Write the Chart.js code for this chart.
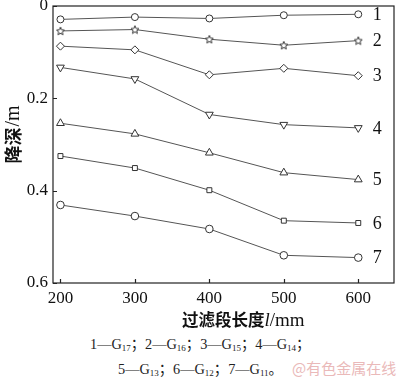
<!DOCTYPE html>
<html>
<head>
<meta charset="utf-8">
<script src="https://cdn.jsdelivr.net/npm/chart.js@4.4.0/dist/chart.umd.min.js"></script>
<style>
  body { margin: 0; background: #fff; }
  #wrap { position: relative; width: 400px; height: 380px; }
  #chart { position: absolute; left: 0; top: 0; }
  .leg { position: absolute; font-family: "Liberation Serif", "Noto Sans CJK SC", serif; font-size: 14.3px; color: #222; white-space: nowrap; }
  .leg sub { font-size: 9px; vertical-align: -2px; }
  .mark { position: absolute; font-family: "Noto Sans CJK SC", sans-serif; font-size: 15px; color: #eab9b9; white-space: nowrap; }
</style>
</head>
<body>
<div id="wrap">
  <canvas id="chart" width="400" height="330"></canvas>
  <div class="leg" style="left:90px;top:332px;">1—G<sub>17</sub>；2—G<sub>16</sub>；3—G<sub>15</sub>；4—G<sub>14</sub>；</div>
  <div class="leg" style="left:118px;top:357px;">5—G<sub>13</sub>；6—G<sub>12</sub>；7—G<sub>11</sub>。</div>
  <div class="mark" style="left:292px;top:357px;">@有色金属在线</div>
</div>
<script>
// filter length (mm)
const lengths = [200, 300, 400, 500, 600];
const xTicks = [200, 300, 400, 500, 600];
const yTicks = [0, 0.2, 0.4, 0.6];

// drawdown (m) for each well
const g17 = [0.029, 0.024, 0.027, 0.020, 0.018];
const g16 = [0.054, 0.051, 0.072, 0.085, 0.075];
const g15 = [0.087, 0.095, 0.149, 0.135, 0.151];
const g14 = [0.133, 0.158, 0.235, 0.257, 0.264];
const g13 = [0.254, 0.277, 0.318, 0.361, 0.376];
const g12 = [0.325, 0.351, 0.399, 0.465, 0.470];
const g11 = [0.431, 0.455, 0.483, 0.540, 0.545];
const curveLabels = ['1', '2', '3', '4', '5', '6', '7'];

// 5-point star marker
function makeStar() {
  const c = document.createElement('canvas');
  c.width = 10; c.height = 10;
  const g = c.getContext('2d');
  g.beginPath();
  for (let i = 0; i < 10; i++) {
    const r = i % 2 === 0 ? 4.2 : 1.9;
    const a = -Math.PI / 2 + i * Math.PI / 5;
    const px = 5 + r * Math.cos(a), py = 5.4 + r * Math.sin(a);
    if (i === 0) g.moveTo(px, py); else g.lineTo(px, py);
  }
  g.closePath();
  g.fillStyle = '#fff';
  g.fill();
  g.strokeStyle = '#333';
  g.lineWidth = 1;
  g.stroke();
  return c;
}

function series(vals, style, radius, rotation) {
  return {
    data: lengths.map((x, i) => ({ x: x, y: vals[i] })),
    borderColor: '#555',
    borderWidth: 1,
    pointStyle: style,
    pointRadius: radius,
    pointRotation: rotation || 0,
    pointBackgroundColor: '#fff',
    pointBorderColor: '#333',
    pointBorderWidth: 1,
    tension: 0
  };
}

const serif = '"Liberation Serif", "Times New Roman", serif';

const decor = {
  id: 'decor',
  afterDraw(chart) {
    const ctx = chart.ctx;
    const a = chart.chartArea;
    const xs = chart.scales.x, ys = chart.scales.y;
    ctx.save();
    // frame
    ctx.strokeStyle = '#222';
    ctx.lineWidth = 1.2;
    ctx.strokeRect(a.left, a.top, a.right - a.left, a.bottom - a.top);
    // inner ticks
    ctx.beginPath();
    xTicks.forEach(v => {
      const px = Math.round(xs.getPixelForValue(v)) + 0.5;
      ctx.moveTo(px, a.bottom); ctx.lineTo(px, a.bottom - 4);
    });
    yTicks.forEach(v => {
      const py = Math.round(ys.getPixelForValue(v)) + 0.5;
      ctx.moveTo(a.left, py); ctx.lineTo(a.left + 4, py);
    });
    ctx.stroke();

    // curve numbers at the right end
    ctx.fillStyle = '#111';
    ctx.font = '18px ' + serif;
    ctx.textAlign = 'center';
    ctx.textBaseline = 'middle';
    chart.data.datasets.forEach((ds, i) => {
      const last = ds.data[ds.data.length - 1];
      ctx.fillText(curveLabels[i], xs.getPixelForValue(last.x) + 19, ys.getPixelForValue(last.y) + 1);
    });

    // x axis title
    ctx.textAlign = 'left';
    ctx.textBaseline = 'middle';
    let tx = 182;
    const ty = 320;
    ctx.font = 'bold 16.5px "Noto Sans CJK SC", sans-serif';
    ctx.fillText('过滤段长度', tx, ty);
    tx += ctx.measureText('过滤段长度').width;
    ctx.font = 'italic 19px ' + serif;
    ctx.fillText('l', tx, ty + 1);
    tx += ctx.measureText('l').width;
    ctx.font = '19px ' + serif;
    ctx.fillText('/mm', tx, ty + 1);

    // y axis title
    ctx.translate(13, 135);
    ctx.rotate(-Math.PI / 2);
    ctx.font = 'bold 18px "Noto Sans CJK SC", sans-serif';
    const w1 = ctx.measureText('降深').width;
    ctx.font = '20px ' + serif;
    const w2 = ctx.measureText('/m').width;
    const sx = -(w1 + w2) / 2;
    ctx.font = 'bold 18px "Noto Sans CJK SC", sans-serif';
    ctx.fillText('降深', sx, 0);
    ctx.font = '20px ' + serif;
    ctx.fillText('/m', sx + w1 + 1, 1);
    ctx.restore();
  }
};

new Chart(document.getElementById('chart'), {
  type: 'line',
  data: {
    datasets: [
      series(g17, 'circle', 3.5),
      series(g16, makeStar(), 5),
      series(g15, 'rectRot', 4),
      series(g14, 'triangle', 4.5, 180),
      series(g13, 'triangle', 4.5),
      series(g12, 'rect', 3.5),
      series(g11, 'circle', 3.8)
    ]
  },
  options: {
    responsive: false,
    animation: false,
    layout: { padding: { top: 4, right: 1, left: 0, bottom: 0 } },
    plugins: { legend: { display: false }, tooltip: { enabled: false } },
    scales: {
      x: {
        type: 'linear',
        min: 190,
        max: 648,
        afterBuildTicks: s => { s.ticks = xTicks.map(v => ({ value: v })); },
        afterFit: s => { s.height = 47; s.paddingLeft = 0; s.paddingRight = 0; },
        grid: { display: false, drawTicks: false },
        border: { display: false },
        ticks: { color: '#111', padding: 5, font: { family: serif, size: 17 } }
      },
      y: {
        type: 'linear',
        reverse: true,
        min: 0,
        max: 0.6,
        afterBuildTicks: s => { s.ticks = yTicks.map(v => ({ value: v })); },
        afterFit: s => { s.width = 53; s.paddingTop = 0; s.paddingBottom = 0; },
        grid: { display: false, drawTicks: false },
        border: { display: false },
        ticks: {
          color: '#111',
          padding: 5,
          font: { family: serif, size: 17 },
          callback: v => v === 0 ? '0' : v.toFixed(1)
        }
      }
    }
  },
  plugins: [decor]
});
</script>
</body>
</html>
